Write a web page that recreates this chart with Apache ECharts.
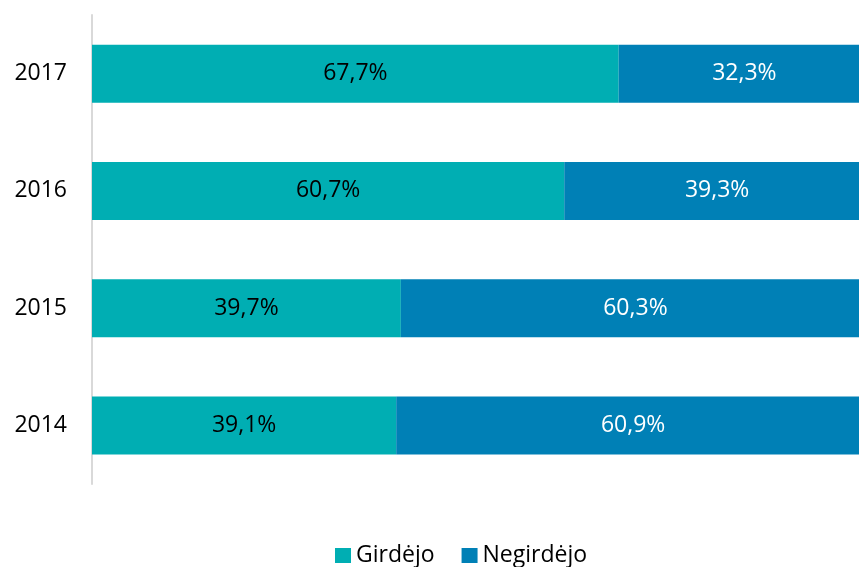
<!DOCTYPE html>
<html>
<head>
<meta charset="utf-8">
<script src="https://cdn.jsdelivr.net/npm/echarts@6/dist/echarts.min.js"></script>
<style>
  html, body { margin: 0; padding: 0; background: #fff; }
  #chart { width: 859px; height: 567px; }
</style>
</head>
<body>
<div id="chart"></div>
<script>
const years = ["2014", "2015", "2016", "2017"];
const heard = [39.1, 39.7, 60.7, 67.7];
const notHeard = [60.9, 60.3, 39.3, 32.3];

const fmt = (p) => p.value.toFixed(1).replace(".", ",") + "%";
const font = "'Open Sans', 'Liberation Sans', sans-serif";

const chart = echarts.init(document.getElementById("chart"));
chart.setOption({
  animation: false,
  textStyle: { fontFamily: font },
  // the bars run past the right edge of the picture, as in the original
  grid: { left: 92, width: 778, top: 15, bottom: 83, outerBoundsMode: "none" },
  legend: {
    top: 539,
    left: 330,
    itemWidth: 16,
    itemHeight: 15,
    itemGap: 27,
    icon: "rect",
    textStyle: { fontSize: 23, color: "#000", fontFamily: font },
    data: ["Girdėjo", "Negirdėjo"],
  },
  xAxis: {
    type: "value",
    min: 0,
    max: 100,
    show: false,
  },
  yAxis: {
    type: "category",
    data: years,
    axisLine: { show: true, onZero: false, lineStyle: { color: "#d9d9d9", width: 2 } },
    axisTick: { show: false },
    axisLabel: { fontSize: 23, color: "#000", margin: 25, fontFamily: font },
  },
  series: [
    {
      name: "Girdėjo",
      type: "bar",
      stack: "total",
      barWidth: 58,
      data: heard,
      itemStyle: { color: "#00aeb3" },
      label: { show: true, position: "inside", fontSize: 23, color: "#000", formatter: fmt, fontFamily: font },
    },
    {
      name: "Negirdėjo",
      type: "bar",
      stack: "total",
      barWidth: 58,
      data: notHeard,
      itemStyle: { color: "#0080b6" },
      label: { show: true, position: "inside", fontSize: 23, color: "#fff", formatter: fmt, fontFamily: font },
    },
  ],
});
</script>
</body>
</html>
